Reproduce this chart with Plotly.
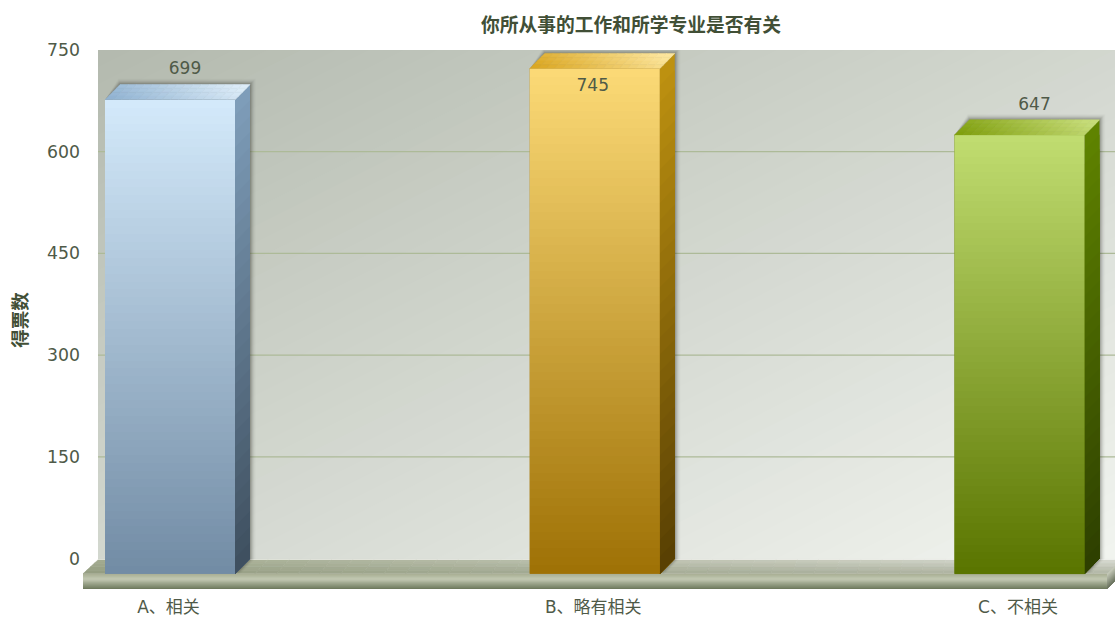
import plotly.graph_objects as go

categories = ["A、相关", "B、略有相关", "C、不相关"]
votes = [699, 745, 647]
y_ticks = [0, 150, 300, 450, 600, 750]
chart_title = "你所从事的工作和所学专业是否有关"
y_title = "得票数"

front_top = ["#d3e9fa", "#fbd976", "#c0dc70"]
front_bottom = ["#728ca5", "#9f7206", "#5a7500"]
side_top = ["#7e9db9", "#bd9110", "#5f8300"]
side_bottom = ["#3f5060", "#594003", "#2e4000"]
roof_dark = ["#8db0d0", "#d9a41c", "#7c9c08"]
roof_light = ["#dcecf8", "#fce59c", "#c6dc78"]

W, H = 1115, 618
PL, PR, PT, PB = 83, 1115, 49.5, 590
Y_TOP = 750
PX_PER_UNIT = 509 / 750
Y_BOT = Y_TOP - (PB - PT) / PX_PER_UNIT
PX_PER_CAT = 424.75
X_MIN = (PL - 170) / PX_PER_CAT
X_MAX = X_MIN + (PR - PL) / PX_PER_CAT
DX = 15 / PX_PER_CAT          # depth, in category units
DY = 22.5                     # depth, in value units
BAR_W = 130 / PX_PER_CAT
WALL_L = X_MIN + 15 / PX_PER_CAT


def hex2rgb(c):
    return [int(c[i:i + 2], 16) for i in (1, 3, 5)]


def mix(a, b, t):
    a, b = hex2rgb(a), hex2rgb(b)
    return "#%02x%02x%02x" % tuple(round(p + (q - p) * t) for p, q in zip(a, b))


def poly_path(pts):
    return "M" + "L".join(f"{x:.5f},{y:.4f}" for x, y in pts) + "Z"


shapes = []


def add_poly(pts, fill, line=None, lw=0):
    shapes.append(dict(type="path", path=poly_path(pts), xref="x", yref="y", layer="below",
                       fillcolor=fill, line=dict(width=lw, color=line or fill)))


def lerp(p, q, t):
    return (p[0] + (q[0] - p[0]) * t, p[1] + (q[1] - p[1]) * t)


def quad_grid(a, b, c, d, colour, nu, nv):
    """a-b top edge, d-c bottom edge; colour(u, v) gives the fill."""
    for i in range(nu):
        for j in range(nv):
            u0, u1, v0, v1 = i / nu, (i + 1) / nu, j / nv, (j + 1) / nv
            pts = [lerp(lerp(a, b, u), lerp(d, c, u), v) for u, v in
                   ((u0, v0), (u1, v0), (u1, v1), (u0, v1))]
            col = colour((u0 + u1) / 2, (v0 + v1) / 2)
            add_poly(pts, col, col, 0.6)


def clip_diag(level):
    """Wall rectangle (unit square) clipped to u + v >= level."""
    sq = [(0, 0), (1, 0), (1, 1), (0, 1)]
    out = []
    for i, p in enumerate(sq):
        q = sq[(i + 1) % 4]
        fp, fq = p[0] + p[1] - level, q[0] + q[1] - level
        if fp >= 0:
            out.append(p)
        if fp * fq < 0:
            out.append(lerp(p, q, fp / (fp - fq)))
    return out


# back wall: painter-style diagonal gradient
N_WALL = 60
for k in range(N_WALL):
    lvl = 2 * k / N_WALL
    pts = clip_diag(lvl)
    if len(pts) >= 3:
        add_poly([(WALL_L + u * (X_MAX - WALL_L), Y_TOP + v * (0 - Y_TOP)) for u, v in pts],
                 mix("#b4baaf", "#f1f4ef", k / (N_WALL - 1)))

# grid lines, at the back plane
for t in y_ticks[1:-1]:
    shapes.append(dict(type="line", xref="x", yref="y", layer="below", x0=WALL_L, x1=X_MAX, y0=t, y1=t,
                       line=dict(color="#adba98", width=1.2)))

# floor
FX0 = X_MIN
FX1 = X_MAX - 8 / PX_PER_CAT
SLAB = 22.5
FLOOR_BACK = -2
RIGHT_RISE = 8 / PX_PER_UNIT
quad_grid((WALL_L, FLOOR_BACK), (X_MAX, FLOOR_BACK), (X_MAX, -DY), (FX0, -DY),
          lambda u, v: mix(mix("#a3ab90", "#dadcd3", u), mix("#939c80", "#b0b5a4", u), v), 48, 4)
for k in range(16):
    t = k / 15
    f = mix("#c2c8b2", "#6f7a5e", (t - 0.35) / 0.65) if t > 0.35 else mix("#aab196", "#c2c8b2", t / 0.35)
    add_poly([(FX0, -DY - SLAB * k / 16), (FX1, -DY - SLAB * k / 16), (FX1, -DY - SLAB), (FX0, -DY - SLAB)], f)
for k in range(10):
    t = k / 9
    add_poly([(FX1, -DY - SLAB * k / 10), (X_MAX, -DY + RIGHT_RISE - SLAB * k / 10),
              (X_MAX, -DY + RIGHT_RISE - SLAB), (FX1, -DY - SLAB)],
             mix("#c4c8b8", "#6c7560", t))

# bar side and roof faces, with a soft shadow behind
for i, v in enumerate(votes):
    l, r = i - BAR_W / 2, i + BAR_W / 2
    top = v - DY
    base = -DY
    for k in range(6, 0, -1):
        gx, gy = k / PX_PER_CAT, k / PX_PER_UNIT
        alpha = 0.012 + 0.016 * (6 - k) ** 1.3
        add_poly([(l, top), (l + DX - gx * 0.3, top + DY + gy), (r + DX + gx, top + DY + gy),
                  (r + DX + gx, base + DY), (r + gx, base)], f"rgba(40,40,30,{alpha:.3f})")
    for k in range(30):
        f = k / 30
        y_hi = top + (base - top) * f
        add_poly([(r, y_hi), (r + DX, y_hi + DY), (r + DX, base + DY), (r, base)],
                 mix(side_top[i], side_bottom[i], k / 29))
    dark, light = roof_dark[i], roof_light[i]
    quad_grid((l + DX, top + DY), (r + DX, top + DY), (r, top), (l, top),
              lambda u, w: mix(dark, light, min(1, max(0, u * 0.85 + (1 - w) * 0.25))), 16, 4)

fig = go.Figure()

# front faces: the bars themselves on the main axes ...
fig.add_trace(go.Bar(x=list(range(len(votes))), y=votes, base=-DY, width=BAR_W,
                     marker=dict(color=front_bottom, line=dict(width=0)), hoverinfo="skip"))
# ... and their vertical gradient on an overlaid twin of the axes, which paints above them
N_GRAD = 60
for i, v in enumerate(votes):
    base = -DY
    top = v - DY
    edges = [base + (top - base) * k / N_GRAD for k in range(N_GRAD + 1)]
    fig.add_trace(go.Heatmap(
        x=[i - BAR_W / 2, i + BAR_W / 2],
        y=edges,
        z=[[k] for k in range(N_GRAD)],
        colorscale=[[0, front_bottom[i]], [1, front_top[i]]],
        showscale=False, hoverinfo="skip", zsmooth=False, xaxis="x2", yaxis="y2"))

# value labels: above the roof, or inside the front face when there is no room
lab_x, lab_y = [], []
for i, v in enumerate(votes):
    top = v - DY
    if top + 46 + 10 > Y_TOP:
        lab_x.append(i - 2 / PX_PER_CAT)
        lab_y.append(top - 27)
    else:
        lab_x.append(i + DX)
        lab_y.append(top + 44)
fig.add_trace(go.Scatter(x=lab_x, y=lab_y, mode="text", text=[str(v) for v in votes],
                         textposition="middle center", hoverinfo="skip", xaxis="x2", yaxis="y2",
                         textfont=dict(family="DejaVu Sans", size=17, color="#4f5a48")))

fig.update_layout(
    width=W, height=H, showlegend=False, plot_bgcolor="white", paper_bgcolor="white",
    margin=dict(l=PL, r=W - PR, t=PT, b=H - PB, pad=0, autoexpand=False),
    shapes=shapes,
    title=dict(text=f"<b>{chart_title}</b>", x=631 / W, y=1 - 25 / H, xanchor="center", yanchor="middle",
               font=dict(family="Noto Sans CJK SC", size=18.75, color="#414f36")),
    xaxis=dict(range=[X_MIN, X_MAX], tickmode="array",
               tickvals=[i - 1.5 / PX_PER_CAT for i in range(len(votes))], ticktext=categories,
               showgrid=False, zeroline=False, showline=False, ticks="outside", ticklen=1.5,
               tickcolor="rgba(0,0,0,0)",
               tickfont=dict(family="DejaVu Sans, Noto Sans CJK SC", size=17, color="#4f5a48")),
    yaxis=dict(range=[Y_BOT, Y_TOP], tickmode="array", tickvals=y_ticks, showgrid=False, zeroline=False,
               showline=False, ticks="", automargin=False, ticklabelstandoff=2,
               title=dict(text=f"<b>{y_title}</b>", standoff=14,
                          font=dict(family="Noto Sans CJK SC", size=18.5, color="#414f36")),
               tickfont=dict(family="DejaVu Sans", size=17.3, color="#4f5a48")),
    xaxis2=dict(range=[X_MIN, X_MAX], overlaying="x", visible=False),
    yaxis2=dict(range=[Y_BOT, Y_TOP], overlaying="y", visible=False),
)
fig.write_html("out.html", config=dict(displayModeBar=False),
               post_script="document.body.style.margin='0';")
